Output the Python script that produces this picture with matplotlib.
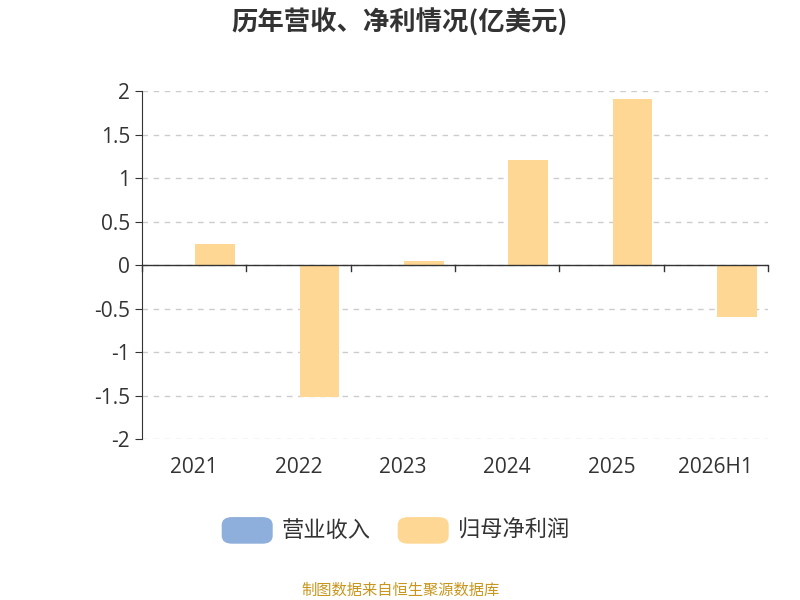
import matplotlib.pyplot as plt
import numpy as np
from matplotlib.patches import FancyBboxPatch

plt.rcParams['font.family'] = ['Noto Sans CJK SC', 'DejaVu Sans']

years = ['2021', '2022', '2023', '2024', '2025', '2026H1']
revenue = [np.nan] * 6
net_profit = [0.24, -1.52, 0.05, 1.21, 1.91, -0.59]

fig = plt.figure(figsize=(8, 6), dpi=100)
ax = fig.add_axes([0.1775, 0.268, 0.7825, 0.58])

x = np.arange(len(years))
w = 0.38
ax.bar(x - w / 2 - 0.01, revenue, w, color='#8eaedb', label='营业收入')
ax.bar(x + w / 2 + 0.01, net_profit, w, color='#ffd794', label='归母净利润')

ax.set_xlim(-0.5, 5.5)
ax.set_ylim(-2, 2)
ax.set_yticks([-2, -1.5, -1, -0.5, 0, 0.5, 1, 1.5, 2])
ax.set_yticklabels(['-2', '-1.5', '-1', '-0.5', '0', '0.5', '1', '1.5', '2'],
                   family=['Open Sans', 'DejaVu Sans'])
ax.yaxis.grid(True, linestyle=(0, (4, 4)), color='#cccccc', linewidth=1)
ax.set_axisbelow(True)
for s in ['top', 'right', 'bottom']:
    ax.spines[s].set_visible(False)
ax.spines['left'].set_color('#333333')
ax.axhline(0, color='#333333', linewidth=1)
ax.set_xticks([])
for i, y in enumerate(years):
    ax.text(i, -2.2, y, ha='center', va='top', fontsize=15, color='#333333',
            family=['Open Sans', 'DejaVu Sans'])
for b in np.arange(-0.5, 6.0, 1):
    ax.plot([b, b], [0, -0.07], color='#333333', linewidth=1, clip_on=False)
ax.tick_params(axis='y', labelsize=15, colors='#333333', length=5)

fig.text(0.5, 0.962, '历年营收、净利情况(亿美元)', ha='center', va='center',
         fontsize=19, fontweight='bold', color='#333333')

# legend
for px, col, lab in [(0.278, '#8eaedb', '营业收入'), (0.498, '#ffd794', '归母净利润')]:
    fig.patches.append(FancyBboxPatch((px, 0.095), 0.062, 0.042,
                       boxstyle='round,pad=0,rounding_size=0.012',
                       transform=fig.transFigure, color=col))
    fig.text(px + 0.074, 0.116, lab, ha='left', va='center', fontsize=16, color='#333333')

fig.text(0.5, 0.017, '制图数据来自恒生聚源数据库', ha='center', va='center',
         fontsize=11, color='#c8961e')

fig.savefig('out.png')
